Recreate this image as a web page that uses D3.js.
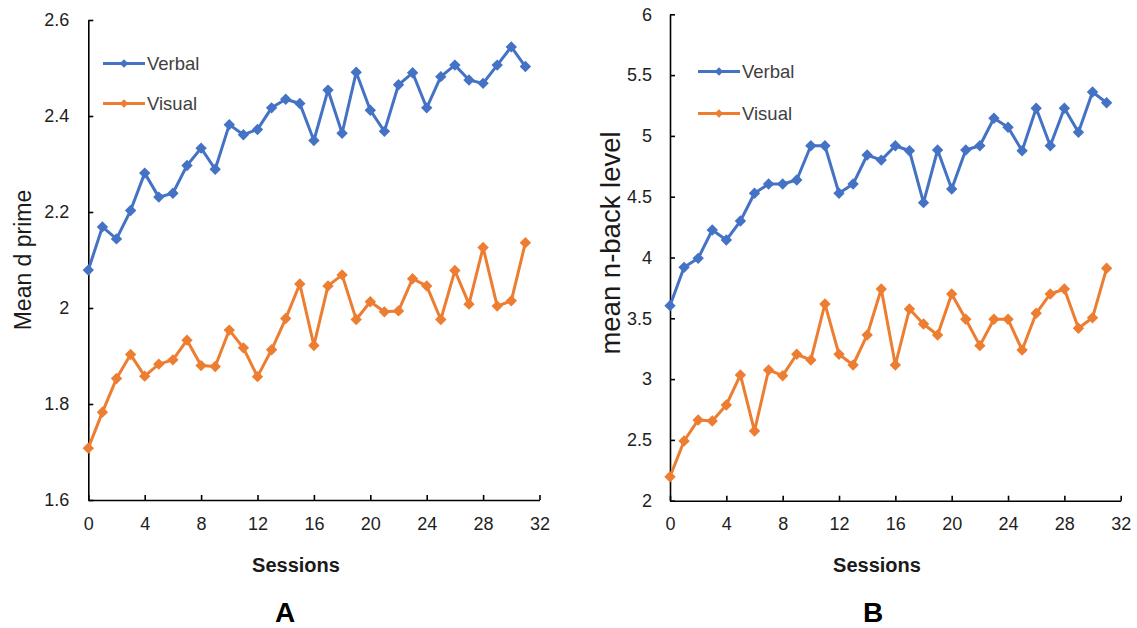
<!DOCTYPE html>
<html>
<head>
<meta charset="utf-8">
<script src="https://cdn.jsdelivr.net/npm/d3@7/dist/d3.min.js"></script>
<style>
  html, body { margin: 0; padding: 0; background: #fff; }
  svg { display: block; }
  text { font-family: "Liberation Sans", Arial, sans-serif; }
</style>
</head>
<body>
<svg id="chart" width="1137" height="628"></svg>
<script>
// ---------- Data ----------
const sessions = [0,1,2,3,4,5,6,7,8,9,10,11,12,13,14,15,16,17,18,19,20,21,22,23,24,25,26,27,28,29,30,31];

const dPrimeVerbal = [2.079,2.169,2.144,2.203,2.281,2.231,2.239,2.297,2.333,2.289,2.382,2.361,2.372,2.417,2.435,2.426,
                      2.349,2.454,2.364,2.491,2.412,2.368,2.465,2.490,2.417,2.482,2.506,2.475,2.468,2.506,2.544,2.503];
const dPrimeVisual = [1.708,1.783,1.853,1.903,1.858,1.883,1.892,1.933,1.880,1.878,1.954,1.917,1.857,1.913,1.978,2.050,
                      1.922,2.046,2.069,1.976,2.013,1.992,1.994,2.061,2.046,1.976,2.078,2.008,2.126,2.004,2.015,2.136];

const nbackVerbal = [3.604,3.919,3.993,4.226,4.144,4.300,4.528,4.604,4.604,4.637,4.919,4.919,4.528,4.604,4.843,4.801,
                     4.919,4.878,4.451,4.884,4.563,4.884,4.919,5.145,5.071,4.878,5.227,4.919,5.227,5.030,5.361,5.273];
const nbackVisual = [2.197,2.491,2.664,2.655,2.787,3.034,2.573,3.075,3.028,3.204,3.157,3.618,3.204,3.116,3.363,3.741,
                     3.116,3.576,3.453,3.363,3.700,3.492,3.275,3.492,3.492,3.239,3.541,3.700,3.741,3.418,3.505,3.911];

const xTicks = [0,4,8,12,16,20,24,28,32];
const yTicksA = [1.6,1.8,2,2.2,2.4,2.6];
const yTickLabelsA = ["1.6","1.8","2","2.2","2.4","2.6"];
const yTicksB = [2,2.5,3,3.5,4,4.5,5,5.5,6];
const yTickLabelsB = ["2","2.5","3","3.5","4","4.5","5","5.5","6"];
const seriesNames = ["Verbal","Visual"];
const seriesColors = ["#4472C4","#ED7D31"];

// ---------- Drawing ----------
const svg = d3.select("#chart");

function diamond(r) {
  return `M0,${-r}L${r},0L0,${r}L${-r},0Z`;
}

function panel(cfg) {
  const x = d3.scaleLinear().domain([0,32]).range(cfg.xRange);
  const y = d3.scaleLinear().domain(cfg.yDomain).range(cfg.yRange);
  const g = svg.append("g");

  // x axis
  const xa = g.append("g")
    .attr("transform", `translate(0,${cfg.yRange[0]})`)
    .call(d3.axisBottom(x).tickValues(xTicks).tickSizeInner(-5).tickSizeOuter(0).tickPadding(17));
  // y axis
  const ya = g.append("g")
    .attr("transform", `translate(${cfg.xRange[0]},0)`)
    .call(d3.axisLeft(y).tickValues(cfg.yTicks).tickSizeInner(-5).tickSizeOuter(0).tickPadding(cfg.yPad)
      .tickFormat((d,i) => cfg.yLabels[cfg.yTicks.indexOf(d)]));

  [xa, ya].forEach(a => {
    a.select(".domain").attr("stroke", "#000").attr("stroke-width", 1.6);
    a.selectAll(".tick line").attr("stroke", "#000").attr("stroke-width", 1.6);
    a.selectAll(".tick text").attr("fill", "#1e1e1e").style("font-size", "18px")
      .style("font-family", "'Liberation Sans', Arial, sans-serif");
  });

  const line = d3.line().x((d,i) => x(sessions[i])).y(d => y(d));

  cfg.series.forEach((vals, k) => {
    g.append("path").datum(vals)
      .attr("d", line)
      .attr("fill", "none")
      .attr("stroke", seriesColors[k])
      .attr("stroke-width", 3)
      .attr("stroke-linejoin", "round");
    g.selectAll(null).data(vals).enter().append("path")
      .attr("d", diamond(5.7))
      .attr("transform", (d,i) => `translate(${x(sessions[i])},${y(d)})`)
      .attr("fill", seriesColors[k]);
  });

  // legend
  seriesNames.forEach((name, k) => {
    const ly = cfg.legY[k];
    const lg = g.append("g").attr("transform", `translate(${cfg.legX},${ly})`);
    lg.append("line").attr("x1", 0).attr("x2", 42).attr("y1", 0).attr("y2", 0)
      .attr("stroke", seriesColors[k]).attr("stroke-width", 3);
    lg.append("path").attr("d", diamond(4.2)).attr("transform", "translate(21,0)").attr("fill", seriesColors[k]);
    lg.append("text").attr("x", 44).attr("y", 0).attr("dy", "0.36em")
      .attr("fill", "#404040").style("font-size", "18.5px").text(name);
  });

  // y title
  g.append("text")
    .attr("transform", `translate(${cfg.yTitleX},${cfg.yTitleY}) rotate(-90)`)
    .attr("text-anchor", "middle")
    .attr("fill", "#1a1a1a")
    .style("font-size", cfg.yTitleSize + "px")
    .text(cfg.yTitle);

  // x title
  g.append("text")
    .attr("x", cfg.xTitleX).attr("y", 572)
    .attr("text-anchor", "middle")
    .attr("fill", "#1a1a1a")
    .style("font-size", "20px").style("font-weight", "bold")
    .text("Sessions");

  // panel letter
  g.append("text")
    .attr("x", cfg.letterX).attr("y", 622)
    .attr("text-anchor", "middle")
    .attr("fill", "#000")
    .style("font-size", "28px").style("font-weight", "bold")
    .text(cfg.letter);
}

panel({
  xRange: [88.3, 539.5],
  yDomain: [1.6, 2.6],
  yRange: [500, 20],
  yTicks: yTicksA,
  yLabels: yTickLabelsA,
  yPad: 19,
  series: [dPrimeVerbal, dPrimeVisual],
  legX: 103, legY: [63.5, 103.5],
  yTitle: "Mean d prime", yTitleX: 31, yTitleY: 260, yTitleSize: 23,
  xTitleX: 296, letterX: 285, letter: "A"
});

panel({
  xRange: [670, 1120.7],
  yDomain: [2, 6],
  yRange: [500.7, 14.3],
  yTicks: yTicksB,
  yLabels: yTickLabelsB,
  yPad: 18,
  series: [nbackVerbal, nbackVisual],
  legX: 698, legY: [71.5, 113.5],
  yTitle: "mean n-back level", yTitleX: 620, yTitleY: 243, yTitleSize: 27.5,
  xTitleX: 877, letterX: 873, letter: "B"
});
</script>
</body>
</html>
